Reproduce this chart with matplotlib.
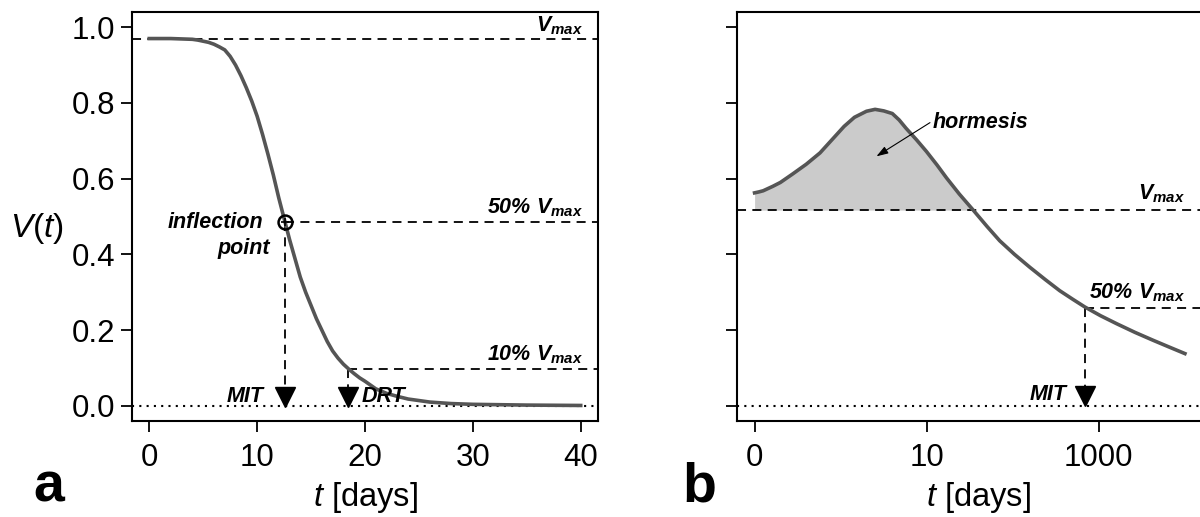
import matplotlib.pyplot as plt
import numpy as np

plt.rcParams['font.family'] = ['Liberation Sans', 'DejaVu Sans']
plt.rcParams['mathtext.fontset'] = 'custom'
plt.rcParams['mathtext.rm'] = 'Liberation Sans'
plt.rcParams['mathtext.it'] = 'Liberation Sans:italic'
plt.rcParams['mathtext.bf'] = 'Liberation Sans:bold'
plt.rcParams['mathtext.bfit'] = 'Liberation Sans:bold:italic'

# panel a: sigmoid decline
t_a = [0, 2, 4, 4.5, 5, 5.5, 6, 6.5, 7, 7.5, 8, 8.5, 9, 9.5, 10, 10.5, 11,
       11.5, 12, 12.6, 13, 13.5, 14, 14.5, 15, 15.5, 16, 16.5, 17, 17.5, 18,
       18.5, 19, 19.5, 20, 21, 22, 23, 24, 26, 28, 30, 35, 40]
v_a = [0.97, 0.97, 0.968, 0.966, 0.963, 0.96, 0.955, 0.948, 0.94, 0.923,
       0.90, 0.872, 0.84, 0.805, 0.765, 0.717, 0.665, 0.61, 0.55, 0.484,
       0.44, 0.39, 0.34, 0.30, 0.265, 0.23, 0.20, 0.17, 0.145, 0.126, 0.11,
       0.097, 0.085, 0.074, 0.065, 0.045, 0.033, 0.025, 0.018, 0.01, 0.006,
       0.004, 0.002, 0.001]
vmax_a = 0.97
mit_a = 12.6
drt_a = 18.4
xticks_a = [0, 10, 20, 30, 40]

# panel b: hormetic curve on a stretched time axis
u_b = [0, 0.025, 0.05, 0.107, 0.15, 0.22, 0.3, 0.38, 0.45, 0.52, 0.58,
       0.65, 0.7, 0.75, 0.8, 0.84, 0.88, 0.94, 0.998, 1.06, 1.115, 1.19,
       1.27, 1.35, 1.424, 1.51, 1.599, 1.69, 1.773, 1.85, 1.919, 2.01, 2.103,
       2.21, 2.316, 2.41, 2.5]
v_b = [0.5625, 0.565, 0.568, 0.58, 0.59, 0.612, 0.638, 0.668, 0.703, 0.738,
       0.762, 0.778, 0.783, 0.779, 0.772, 0.755, 0.733, 0.703, 0.672, 0.636,
       0.602, 0.559, 0.517, 0.474, 0.436, 0.40, 0.366, 0.333, 0.304, 0.281,
       0.261, 0.238, 0.217, 0.194, 0.173, 0.155, 0.138]
vmax_b = 0.517
mit_b = 1.919
xticks_b = [0, 1, 2]
xticklabels_b = ['0', '10', '1000']

yticks = [0.0, 0.2, 0.4, 0.6, 0.8, 1.0]

CURVE = '#555555'
DASH = (0, (5, 3.5))
DOT = (0, (1, 2.5))
BI = dict(fontweight='bold', fontstyle='italic', fontsize=15.5)
VMAX = r'$\mathbfit{V}_{\mathbfit{max}}$'


def style_axes(ax):
    for s in ax.spines.values():
        s.set_linewidth(1.5)
    ax.tick_params(direction='out', length=8, width=1.3, labelsize=22.5)
    ax.tick_params(axis='x', pad=8)
    ax.tick_params(axis='y', pad=4)
    ax.set_yticks(yticks)
    ax.set_ylim(-0.04, 1.04)


def main():
    fig = plt.figure(figsize=(12, 5.17), dpi=100)

    # ---- panel a ----
    ax = fig.add_axes([0.11, 0.1857, 0.3883, 0.791])
    style_axes(ax)
    ax.set_xlim(-1.6, 41.6)
    ax.set_xticks(xticks_a)
    ax.set_yticklabels(['0.0', '0.2', '0.4', '0.6', '0.8', '1.0'])

    ax.axhline(vmax_a, color='k', lw=1.3, ls=DASH)
    ax.axhline(0, color='k', lw=1.5, ls=DOT)
    ax.plot([mit_a, 41.6], [vmax_a * 0.5] * 2, color='k', lw=1.3, ls=DASH)
    ax.plot([drt_a, 41.6], [vmax_a * 0.1] * 2, color='k', lw=1.3, ls=DASH)
    ax.plot([mit_a, mit_a], [vmax_a * 0.5, 0.05], color='k', lw=1.3, ls=DASH)
    ax.plot([drt_a, drt_a], [vmax_a * 0.1, 0.05], color='k', lw=1.3, ls=DASH)
    ax.plot(t_a, v_a, color=CURVE, lw=2.6, solid_joinstyle='round')
    ax.plot([mit_a, drt_a], [0.024, 0.024], 'v', color='k', ms=14)
    ax.plot(mit_a, vmax_a * 0.5, 'o', mfc='none', mec='k', ms=10, mew=1.8)
    ax.plot(mit_a, vmax_a * 0.5, '+', color='k', ms=6, mew=1.2)

    ax.text(40.2, 0.99, VMAX, ha='right', va='baseline', **BI)
    ax.text(40.2, 0.507, '50% ' + VMAX, ha='right', va='baseline', **BI)
    ax.text(40.2, 0.121, '10% ' + VMAX, ha='right', va='baseline', **BI)
    ax.text(10.6, 0.483, 'inflection', ha='right', va='center', **BI)
    ax.text(11.2, 0.415, 'point', ha='right', va='center', **BI)
    ax.text(10.6, 0.026, 'MIT', ha='right', va='center', **BI)
    ax.text(19.7, 0.026, 'DRT', ha='left', va='center', **BI)

    ax.set_xlabel(r'$t$ [days]', fontsize=23.5)
    ax.xaxis.set_label_coords(0.5, -0.145)
    ax.set_ylabel(r'$V(t)$', fontsize=24, rotation=0, ha='center', va='center')
    ax.yaxis.set_label_coords(-0.205, 0.47)

    # ---- panel b ----
    bx = fig.add_axes([0.6139, 0.1857, 0.4028, 0.791])
    style_axes(bx)
    bx.set_xlim(-0.104, 2.704)
    bx.set_xticks(xticks_b, labels=xticklabels_b)
    bx.set_yticklabels([])

    ub = np.array(u_b)
    vb = np.array(v_b)
    bx.fill_between(ub, vb, vmax_b, where=vb >= vmax_b, interpolate=True,
                    color='#cbcbcb', lw=0)
    bx.axhline(vmax_b, color='k', lw=1.3, ls=DASH)
    bx.axhline(0, color='k', lw=1.5, ls=DOT)
    bx.plot([mit_b, 2.704], [vmax_b * 0.5] * 2, color='k', lw=1.3, ls=DASH)
    bx.plot([mit_b, mit_b], [vmax_b * 0.5, 0.05], color='k', lw=1.3, ls=DASH)
    bx.plot(ub, vb, color=CURVE, lw=2.6, solid_joinstyle='round')
    bx.plot(mit_b, 0.026, 'v', color='k', ms=14)

    bx.text(2.5, 0.546, VMAX, ha='right', va='baseline', **BI)
    bx.text(2.5, 0.283, '50% ' + VMAX, ha='right', va='baseline', **BI)
    bx.text(1.81, 0.029, 'MIT', ha='right', va='center', **BI)
    bx.annotate('hormesis', xy=(0.708, 0.659), xytext=(1.035, 0.747),
                ha='left', va='center', **BI,
                arrowprops=dict(arrowstyle='-|>,head_length=0.45,head_width=0.15',
                                color='k', lw=0.8, shrinkA=0, shrinkB=0,
                                relpos=(0, 0.6)))

    bx.set_xlabel(r'$t$ [days]', fontsize=23.5)
    bx.xaxis.set_label_coords(0.5, -0.145)

    fig.text(0.028, 0.03, 'a', fontsize=40, fontweight='bold', va='baseline')
    fig.text(0.569, 0.03, 'b', fontsize=40, fontweight='bold', va='baseline')

    plt.savefig('out.png', dpi=100)


if __name__ == '__main__':
    main()
